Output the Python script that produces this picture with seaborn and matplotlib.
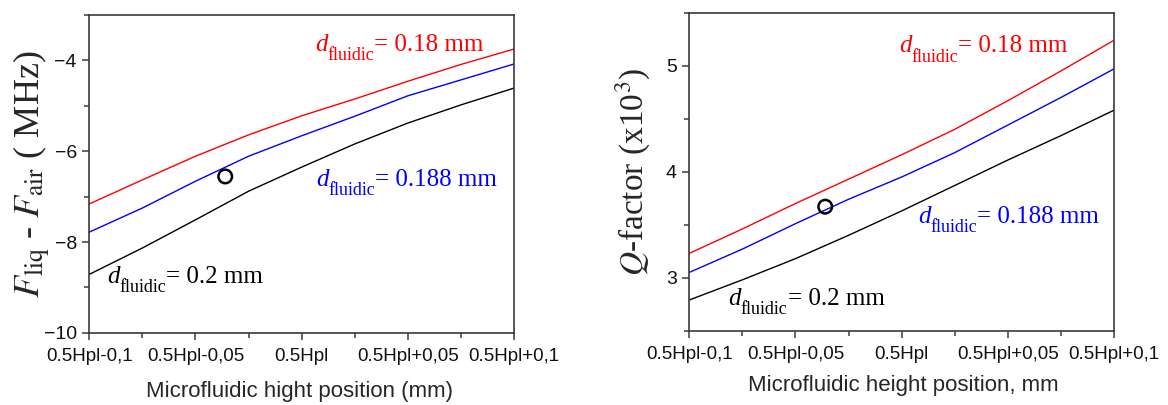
import numpy as np
import pandas as pd
import matplotlib
matplotlib.use("Agg")
import matplotlib.pyplot as plt
import seaborn as sns
from matplotlib.ticker import MultipleLocator

# positions along the microfluidic height (offset from 0.5Hpl, mm)
positions = [-0.1, -0.075, -0.05, -0.025, 0.0, 0.025, 0.05, 0.075, 0.1]
tick_pos = [-0.1, -0.05, 0.0, 0.05, 0.1]
tick_labels = ["0.5Hpl-0,1", "0.5Hpl-0,05", "0.5Hpl", "0.5Hpl+0,05", "0.5Hpl+0,1"]

widths = ["0.18", "0.188", "0.2"]
colors = {"0.18": "#ff0000", "0.188": "#0000ff", "0.2": "#000000"}

# frequency shift F_liq - F_air (MHz)
shift_018 = [-7.16, -6.63, -6.11, -5.64, -5.22, -4.85, -4.46, -4.09, -3.75]
shift_0188 = [-7.78, -7.25, -6.66, -6.11, -5.66, -5.23, -4.78, -4.43, -4.08]
shift_02 = [-8.71, -8.13, -7.51, -6.88, -6.35, -5.84, -5.38, -4.98, -4.61]

# Q-factor (x10^3)
q_018 = [3.23, 3.46, 3.70, 3.93, 4.16, 4.40, 4.67, 4.95, 5.24]
q_0188 = [3.05, 3.27, 3.51, 3.74, 3.95, 4.18, 4.44, 4.70, 4.97]
q_02 = [2.79, 2.98, 3.18, 3.40, 3.63, 3.87, 4.11, 4.34, 4.58]

# measured points (open circles)
meas_x = [-0.036]
meas_shift = [-6.555]
meas_q = [3.67]


def make_frame(series):
    rows = []
    for w, vals in zip(widths, series):
        for x, v in zip(positions, vals):
            rows.append({"pos": x, "val": v, "d": w})
    return pd.DataFrame(rows)


sns.set_style("ticks")
plt.rcParams["font.family"] = ["Liberation Sans", "DejaVu Sans"]
plt.rcParams["mathtext.fontset"] = "stix"

fig = plt.figure(figsize=(11.68, 4.05), dpi=100)
ax1 = fig.add_axes([0.0765, 0.178, 0.3635, 0.785])
ax2 = fig.add_axes([0.5902, 0.1835, 0.3635, 0.785])

serif = "Liberation Serif"


def style_axis(ax):
    ax.set_xlim(-0.1, 0.1)
    ax.set_xticks(tick_pos)
    ax.set_xticklabels(tick_labels)
    ax.xaxis.set_minor_locator(MultipleLocator(0.025))
    for s in ax.spines.values():
        s.set_visible(True)
        s.set_linewidth(1.2)
        s.set_color("#3a3a3a")
    ax.tick_params(which="both", direction="out", color="#3a3a3a", width=1.1,
                   labelcolor="#111111")
    ax.tick_params(axis="x", labelsize=13.5, pad=6)
    ax.tick_params(axis="y", labelsize=14, pad=4)
    ax.tick_params(which="major", length=5)
    ax.tick_params(which="minor", length=3.5)


def label(ax, x, y, value, color):
    # d with a roman subscript "fluidic", then "= value mm"
    t1 = ax.text(x, y, "d", color=color, fontsize=18, family=serif,
                 style="italic", va="baseline", ha="left")
    t2 = ax.annotate("fluidic", xy=(1, 0), xycoords=t1, xytext=(0, -3),
                     textcoords="offset points", color=color, fontsize=13,
                     family=serif, va="baseline", ha="left")
    ax.annotate("= " + value + " mm", xy=(1, 0), xycoords=(t2, t1),
                color=color, fontsize=18, family=serif, va="bottom", ha="left")


# left panel: frequency shift
df1 = make_frame([shift_018, shift_0188, shift_02])
sns.lineplot(data=df1, x="pos", y="val", hue="d", palette=colors, ax=ax1,
             legend=False, linewidth=1.0)
sns.scatterplot(x=meas_x, y=meas_shift, ax=ax1, s=95, facecolor="none",
                edgecolor="black", linewidth=1.8, zorder=5)
ax1.set_ylim(-10, -3)
ax1.set_yticks([-10, -8, -6, -4])
ax1.yaxis.set_minor_locator(MultipleLocator(1))
style_axis(ax1)
label(ax1, 0.0063, -3.80, "0.18", "#ff0000")
label(ax1, 0.0068, -6.76, "0.188", "#0000ff")
label(ax1, -0.0918, -8.90, "0.2", "#000000")
ax1.set_ylabel(r"$F_{\mathrm{liq}}$ - $F_{\mathrm{air}}$ ( MHz)", family=serif,
               fontsize=26)
ax1.yaxis.set_label_coords(-0.086, 0.5)
ax1.set_xlabel("Microfluidic hight position (mm)", fontsize=16)
ax1.xaxis.set_label_coords(0.494, -0.152)

# right panel: Q-factor
df2 = make_frame([q_018, q_0188, q_02])
sns.lineplot(data=df2, x="pos", y="val", hue="d", palette=colors, ax=ax2,
             legend=False, linewidth=1.0)
sns.scatterplot(x=meas_x, y=meas_q, ax=ax2, s=95, facecolor="none",
                edgecolor="black", linewidth=1.8, zorder=5)
ax2.set_ylim(2.5, 5.5)
ax2.set_yticks([3, 4, 5])
ax2.yaxis.set_minor_locator(MultipleLocator(0.5))
style_axis(ax2)
label(ax2, -0.0012, 5.125, "0.18", "#ff0000")
label(ax2, 0.0077, 3.515, "0.188", "#0000ff")
label(ax2, -0.0816, 2.74, "0.2", "#000000")
ax2.set_ylabel(r"$Q$-factor (x10$^3$)", family=serif, fontsize=24)
ax2.yaxis.set_label_coords(-0.086, 0.5)
ax2.set_xlabel("Microfluidic height position, mm", fontsize=16)
ax2.xaxis.set_label_coords(0.504, -0.138)

fig.savefig("out.png", dpi=100)
